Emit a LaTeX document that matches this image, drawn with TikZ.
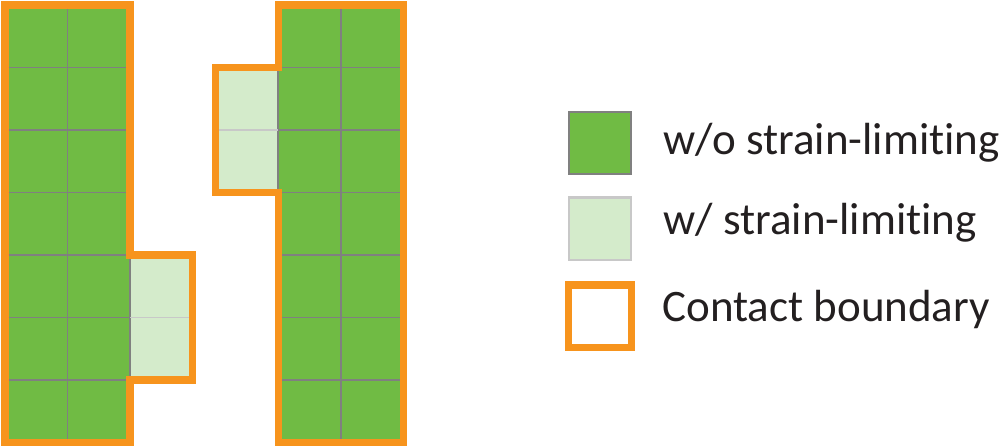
\documentclass[tikz,border=0pt]{standalone}
\usepackage{fontspec}
\setmainfont{Carlito}[Ligatures=NoCommon]
\usetikzlibrary{positioning}
\definecolor{cellGreen}{RGB}{112, 187, 68}
\definecolor{limitGreen}{RGB}{212, 235, 203}
\definecolor{contactOrange}{RGB}{247, 148, 29}
\definecolor{gridGray}{RGB}{128, 128, 128}
\definecolor{limitGray}{RGB}{200, 200, 200}
\definecolor{textBlack}{RGB}{35, 31, 32}

\begin{document}
\begin{tikzpicture}
            \useasboundingbox (-0.08,-0.072) rectangle (15.92,7.08);

            % Left column
            \fill[cellGreen] (0,0) rectangle (2,7);
            \fill[limitGreen] (2,1) rectangle (3,3);
            \foreach \y in {1,...,6}
                \draw[gridGray, line width=0.8pt] (0,\y) -- (2,\y);
            \draw[gridGray, line width=0.8pt] (1,0) -- (1,7);
            \draw[gridGray, line width=0.8pt] (2,1) -- (2,3);
            \draw[limitGray, line width=0.8pt] (2,2) -- (3,2);
            \draw[contactOrange, line width=3.3pt] (0,0) -- (0,7) -- (2,7) -- (2,3) -- (3,3) -- (3,1) -- (2,1) -- (2,0) -- cycle;

            % Right column
            \fill[cellGreen] (4.37,0) rectangle (6.37,7);
            \fill[limitGreen] (3.37,4) rectangle (4.37,6);
            \foreach \y in {1,...,6}
                \draw[gridGray, line width=0.8pt] (4.37,\y) -- (6.37,\y);
            \draw[gridGray, line width=0.8pt] (5.37,0) -- (5.37,7);
            \draw[gridGray, line width=0.8pt] (4.37,4) -- (4.37,6);
            \draw[limitGray, line width=0.8pt] (3.37,5) -- (4.37,5);
            \draw[contactOrange, line width=3.3pt] (4.37,0) -- (4.37,4) -- (3.37,4) -- (3.37,6) -- (4.37,6) -- (4.37,7) -- (6.37,7) -- (6.37,0) -- cycle;

            % Legend
            \node[draw=gridGray, fill=cellGreen, line width=1pt, minimum size=1cm, inner sep=0pt] at (9.52,4.79) (keyFree) {};
            \node[draw=limitGray, fill=limitGreen, line width=1pt, minimum size=1cm, inner sep=0pt] at (9.52,3.42) (keyLimit) {};
            \node[draw=contactOrange, line width=3.3pt, minimum size=1cm, inner sep=0pt] at (9.52,2.02) (keyContact) {};

            \node[anchor=base west, inner sep=0pt, text=textBlack, font=\fontsize{20.5}{24}\selectfont] at (10.53,4.6) (freeText) {w/o strain-limiting};
            \node[anchor=base west, inner sep=0pt, text=textBlack, font=\fontsize{20.5}{24}\selectfont] at (10.53,3.32) (limitText) {w/ strain-limiting};
            \node[anchor=base west, inner sep=0pt, text=textBlack, font=\fontsize{20.5}{24}\selectfont] at (10.51,1.93) (contactText) {Contact boundary};
        \end{tikzpicture}
\end{document}
